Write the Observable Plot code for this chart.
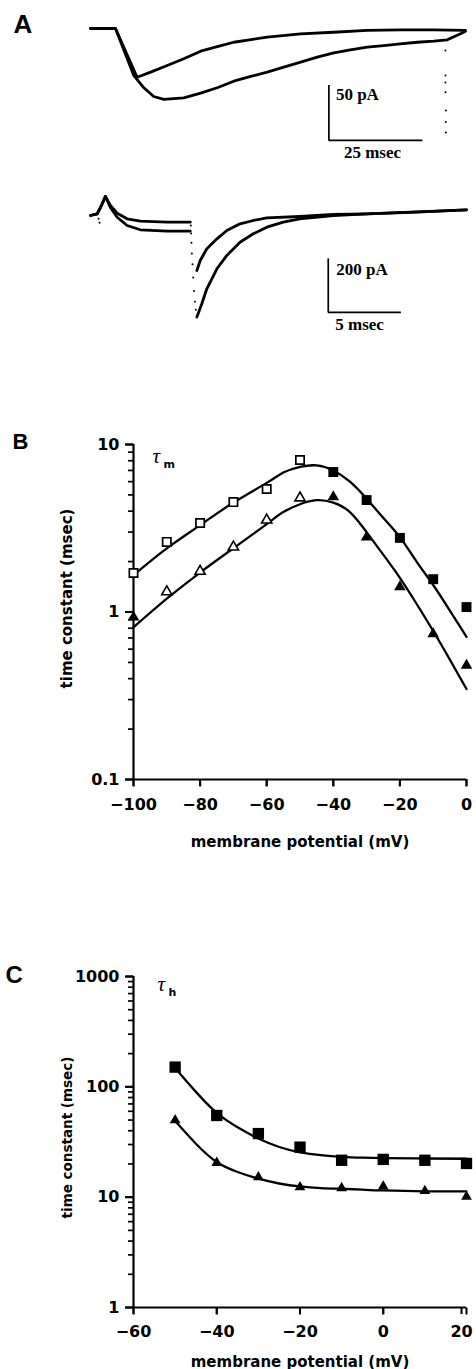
<!DOCTYPE html>
<html><head><meta charset="utf-8">
<script src="https://cdn.jsdelivr.net/npm/d3@7"></script>
<script src="https://cdn.jsdelivr.net/npm/@observablehq/plot@0.6"></script>
<style>
body{margin:0;background:#fff;}
#fig{position:relative;width:476px;height:1369px;overflow:hidden;background:#fff;}
#fig > svg{position:absolute;left:0;}
</style></head><body><div id="fig"></div>
<script>
// ---------- Panel A, upper records (time in ms, current in pA) ----------
const a1FastT = [0, 6.65, 12.4, 16.0, 20.4, 24.8, 29.3, 33.7, 38.1, 47.0, 55.9, 64.6, 73.6, 82.4, 91.2, 99.7];
const a1FastI = [0, 0, -44.3, -39.7, -33.6, -27.5, -20.6, -16.4, -12.5, -7.9, -4.8, -3.4, -1.8, -1.2, -1.2, -1.8];
const a1SlowT = [0, 6.65, 11.5, 14.2, 16.8, 19.5, 24.8, 29.3, 33.7, 38.1, 42.6, 47.0, 51.4, 55.9, 60.3, 64.7, 69.1, 73.6, 78.0, 82.4, 86.9, 91.3, 94.9, 98.4, 99.7];
const a1SlowI = [0, 0, -42.7, -53.9, -61.8, -64.5, -63.0, -58.8, -53.9, -47.9, -43.6, -39.7, -35.2, -30.6, -26.1, -22.1, -19.4, -17.0, -15.5, -13.9, -12.5, -11.5, -10.3, -4.8, -2.5];
const a1ArtT = [94.4, 94.4, 94.4, 94.4, 94.5, 94.5, 94.5];
const a1ArtI = [-20, -42.7, -49, -58, -74.5, -85, -94.5];
const a1Bar = {t0: 63.4, i0: -101.8, dT: 25, dI: 50};

// ---------- Panel A, lower records ----------
const a2UpT = [0, 0.46, 0.8, 1.02, 1.36, 1.82, 2.5, 3.41, 5.23, 6.82, 7.27, 7.5, 7.95, 8.64, 9.32, 10.22, 11.13, 12.05, 14.3, 16.6, 18.9, 22.3, 25.7];
const a2UpI = [-7.5, -1.1, 36, 64, 30, 1.1, -20, -28.8, -32.6, -32.6, -213.5, -176, -132, -94.8, -63.7, -38.6, -26.2, -16.1, -11.2, -3.7, -1.1, 4.9, 13.9];
const a2LoT = [0, 0.46, 0.8, 1.02, 1.36, 1.82, 2.5, 3.41, 5.23, 6.82, 7.27, 7.61, 7.95, 8.64, 9.32, 10.22, 11.13, 12.05, 13.18, 14.3, 16.6, 18.9, 25.7];
const a2LoI = [-7.5, -1.1, 36, 64, 22.5, -13.9, -45, -61, -66.3, -66.3, -388, -338, -282, -207, -157, -107.5, -76, -51.3, -32.6, -19.9, -7.5, -1.1, 13.9];
const a2ArtT = [6.86, 6.88, 6.9, 6.93, 6.97, 7.02, 7.08, 7.14, 7.2, 0.55, 0.62];
const a2ArtI = [-45, -75, -110, -150, -190, -240, -290, -330, -360, -20, -35];
const a2Bar = {t0: 16.25, i0: -370, dT: 5, dI: 200};

// ---------- Panel B: tau_m ----------
const bV = [-100, -90, -80, -70, -60, -50, -40, -30, -20, -10, 0];
const bTauSquare = [1.71, 2.62, 3.40, 4.53, 5.42, 8.08, 6.85, 4.66, 2.77, 1.57, 1.07];
const bSquareOpen = [true, true, true, true, true, true, false, false, false, false, false];
const bTauTriangle = [0.93, 1.32, 1.75, 2.44, 3.54, 4.8, 4.86, 2.8, 1.41, 0.74, 0.48];
const bTriangleOpen = [false, true, true, true, true, true, false, false, false, false, false];
const bFitV = [-100, -90, -80, -70, -60, -55, -50, -45, -40, -35, -30, -25, -20, -15, -10, -5, 0];
const bFitUpper = [1.66, 2.4, 3.3, 4.5, 5.9, 6.8, 7.35, 7.5, 7.0, 6.0, 4.75, 3.65, 2.8, 2.0, 1.45, 1.02, 0.71];
const bFitLower = [0.81, 1.2, 1.72, 2.4, 3.35, 3.95, 4.4, 4.65, 4.5, 3.95, 3.0, 2.2, 1.6, 1.12, 0.77, 0.52, 0.347];
const bXTicks = [-100, -80, -60, -40, -20, 0];
const bYTicks = [0.1, 1, 10];
const bYMinor = [0.2, 0.3, 0.4, 0.5, 0.6, 0.7, 0.8, 0.9, 2, 3, 4, 5, 6, 7, 8, 9];
const bXDomain = [-100, 0];
const bYDomain = [0.1, 10];

// ---------- Panel C: tau_h ----------
const cV = [-50, -40, -30, -20, -10, 0, 10, 20];
const cTauSquare = [151, 55, 37.7, 28.4, 21.6, 22, 21.6, 20.2];
const cTauTriangle = [49.8, 20.5, 15.2, 12.3, 12.1, 12.5, 11.4, 10.1];
const cFitV = [-50, -45, -40, -35, -30, -25, -20, -15, -10, -5, 0, 10, 20];
const cFitUpper = [148, 90, 58, 43, 34, 28.5, 25.5, 24, 23.2, 22.8, 22.6, 22.4, 22.3];
const cFitLower = [49, 30.5, 20.8, 16.9, 14.7, 13.3, 12.5, 12.1, 11.9, 11.7, 11.5, 11.3, 11.3];
const cXTicks = [-60, -40, -20, 0, 20];
const cYTicks = [1, 10, 100, 1000];
const cYMinor = [2,3,4,5,6,7,8,9,20,30,40,50,60,70,80,90,200,300,400,500,600,700,800,900];
const cXDomain = [-60, 20];
const cYDomain = [1, 1000];

// ---------- helpers ----------
const zip = (xs, ys, kx = "x", ky = "y") => xs.map((v, i) => ({[kx]: v, [ky]: ys[i]}));
const SANS = "DejaVu Sans";
const SERIF = "Liberation Serif";
const LETTER = "Liberation Sans";
const fig = document.getElementById("fig");
function place(svg, top) { svg.style.top = top + "px"; fig.appendChild(svg); }
const baseStyle = {background: "transparent", overflow: "visible", fontFamily: SANS};
const TRACE = 2.8;
// tick-shaped symbols (a short stroke leaving the point leftwards or downwards)
const tickLeft = len => ({draw(ctx) { ctx.moveTo(0, 0); ctx.lineTo(-len, 0); }});
const tickDown = len => ({draw(ctx) { ctx.moveTo(0, 0); ctx.lineTo(0, len); }});

// ---------- Panel A1 ----------
const A1 = Plot.plot({
  width: 476, height: 170, marginLeft: 90, marginRight: 10, marginTop: 0, marginBottom: 0,
  x: {domain: [0, 100], axis: null},
  y: {domain: [-129.1, 25.45], axis: null},
  style: baseStyle,
  marks: [
    Plot.line(zip(a1SlowT, a1SlowI), {x: "x", y: "y", stroke: "black", strokeWidth: TRACE}),
    Plot.line(zip(a1FastT, a1FastI), {x: "x", y: "y", stroke: "black", strokeWidth: TRACE}),
    Plot.dot(zip(a1ArtT, a1ArtI), {x: "x", y: "y", r: 1, fill: "black"}),
    Plot.ruleX([a1Bar], {x: "t0", y1: "i0", y2: d => d.i0 + d.dI, strokeWidth: 1.7}),
    Plot.ruleY([a1Bar], {y: "i0", x1: "t0", x2: d => d.t0 + d.dT, strokeWidth: 1.7}),
    Plot.text([a1Bar], {x: "t0", y: d => d.i0 + d.dI, text: d => d.dI + " pA", dx: 7, dy: 15, textAnchor: "start", lineAnchor: "bottom", fontFamily: SERIF, fontWeight: "bold", fontSize: 17, letterSpacing: "0.6px"}),
    Plot.text([a1Bar], {x: "t0", y: "i0", text: d => d.dT + " msec", dx: 15, dy: 18, textAnchor: "start", lineAnchor: "bottom", fontFamily: SERIF, fontWeight: "bold", fontSize: 17, letterSpacing: "0.6px"}),
    Plot.text(["A"], {frameAnchor: "top-left", dx: -77, dy: 32, textAnchor: "start", lineAnchor: "bottom", fontFamily: LETTER, fontWeight: "bold", fontSize: 26})
  ]
});
place(A1, 0);

// ---------- Panel A2 ----------
const A2 = Plot.plot({
  width: 476, height: 180, marginLeft: 90, marginRight: 10, marginTop: 0, marginBottom: 0,
  x: {domain: [0, 25.7], axis: null},
  y: {domain: [-513, 161], axis: null},
  style: baseStyle,
  marks: [
    Plot.line(zip(a2LoT.slice(0, 10), a2LoI.slice(0, 10)), {x: "x", y: "y", strokeWidth: TRACE}),
    Plot.line(zip(a2LoT.slice(10), a2LoI.slice(10)), {x: "x", y: "y", strokeWidth: TRACE}),
    Plot.line(zip(a2UpT.slice(0, 10), a2UpI.slice(0, 10)), {x: "x", y: "y", strokeWidth: TRACE}),
    Plot.line(zip(a2UpT.slice(10), a2UpI.slice(10)), {x: "x", y: "y", strokeWidth: TRACE}),
    Plot.dot(zip(a2ArtT, a2ArtI), {x: "x", y: "y", r: 1, fill: "black"}),
    Plot.ruleX([a2Bar], {x: "t0", y1: "i0", y2: d => d.i0 + d.dI, strokeWidth: 1.7}),
    Plot.ruleY([a2Bar], {y: "i0", x1: "t0", x2: d => d.t0 + d.dT, strokeWidth: 1.7}),
    Plot.text([a2Bar], {x: "t0", y: d => d.i0 + d.dI, text: d => d.dI + " pA", dx: 8, dy: 16, textAnchor: "start", lineAnchor: "bottom", fontFamily: SERIF, fontWeight: "bold", fontSize: 17, letterSpacing: "0.6px"}),
    Plot.text([a2Bar], {x: "t0", y: "i0", text: d => d.dT + " msec", dx: 7, dy: 18, textAnchor: "start", lineAnchor: "bottom", fontFamily: SERIF, fontWeight: "bold", fontSize: 17, letterSpacing: "0.6px"})
  ]
});
place(A2, 170);

// ---------- generic log panel ----------
function logPanel(o) {
  const rows = (vals, open) => o.V.map((v, i) => ({v, tau: vals[i], open: open ? open[i] : false}));
  const sq = rows(o.sq, o.sqOpen), tr = rows(o.tr, o.trOpen);
  const fitU = zip(o.fitV, o.fitU, "v", "tau");
  const fitL = zip(o.fitV, o.fitL, "v", "tau");
  const font = {fontSize: 16, fontWeight: "bold", fontFamily: SANS};
  const lastX = o.xTicks[o.xTicks.length - 1];
  const x0 = o.xDomain[0], y0 = o.yDomain[0];
  return Plot.plot({
    width: 476, height: o.height, marginLeft: 133, marginRight: 10, marginTop: o.mt, marginBottom: o.mb,
    x: {domain: o.xDomain},
    y: {type: "log", domain: o.yDomain},
    style: baseStyle,
    marks: [
      // tick labels
      Plot.axisY({ticks: o.yTicks, tickSize: 8, tickPadding: 6, tickFormat: d => String(d), label: null, strokeWidth: 2, ...font}),
      Plot.axisX({ticks: o.xTicks.slice(0, -1), tickSize: 7, tickPadding: o.xPad, label: null, strokeWidth: 2, ...font}),
      Plot.axisX({ticks: [lastX], tickSize: 7, tickPadding: o.xPad, label: null, strokeWidth: 2, textAnchor: "middle", dx: o.lastDx, ...font}),
      // tick strokes
      Plot.dot(o.yMinor, {x: () => x0, y: d => d, symbol: tickLeft(5.5), fill: "none", stroke: "black", strokeWidth: 1.7}),
      Plot.dot(o.yTicks, {x: () => x0, y: d => d, symbol: tickLeft(8), fill: "none", stroke: "black", strokeWidth: 2}),
      Plot.dot(o.xTicks, {x: d => d, y: () => y0, symbol: tickDown(7), fill: "none", stroke: "black", strokeWidth: 2}),
      // axis lines
      Plot.ruleX([x0], {y1: o.yDomain[0], y2: o.yDomain[1], strokeWidth: 2.2}),
      Plot.ruleY([y0], {x1: o.xDomain[0], x2: o.xDomain[1], strokeWidth: 2.2}),
      // fits and data
      Plot.line(fitU, {x: "v", y: "tau", curve: "natural", strokeWidth: 2.3}),
      Plot.line(fitL, {x: "v", y: "tau", curve: "natural", strokeWidth: 2.3}),
      Plot.dot(sq.filter(d => d.open), {x: "v", y: "tau", symbol: "square", r: o.rSq - 0.9, fill: "white", stroke: "black", strokeWidth: 1.7}),
      Plot.dot(sq.filter(d => !d.open), {x: "v", y: "tau", symbol: "square", r: o.rSq, fill: "black", stroke: "none"}),
      Plot.dot(tr.filter(d => d.open), {x: "v", y: "tau", symbol: "triangle", r: o.rTr - 0.5, fill: "white", stroke: "black", strokeWidth: 1.6}),
      Plot.dot(tr.filter(d => !d.open), {x: "v", y: "tau", symbol: "triangle", r: o.rTr, fill: "black", stroke: "none"}),
      // titles
      Plot.text(["membrane potential (mV)"], {frameAnchor: "bottom", dy: o.xTitleDy, textAnchor: "middle", lineAnchor: "bottom", fontFamily: SANS, fontWeight: "bold", fontSize: 15, letterSpacing: "0.45px"}),
      Plot.text(["time constant (msec)"], {frameAnchor: "left", dx: -66, dy: o.yTitleDy, rotate: -90, textAnchor: "middle", lineAnchor: "middle", fontFamily: SANS, fontWeight: "bold", fontSize: o.yTitleSize}),
      Plot.text(["τ"], {frameAnchor: "top-left", dx: o.tauDx, dy: o.tauDy, textAnchor: "start", lineAnchor: "bottom", fontFamily: SERIF, fontStyle: "italic", fontSize: 21}),
      Plot.text([o.sub], {frameAnchor: "top-left", dx: o.tauDx + 11, dy: o.tauDy + 5, textAnchor: "start", lineAnchor: "bottom", fontFamily: SANS, fontWeight: "bold", fontSize: 11}),
      Plot.text([o.letter], {frameAnchor: "top-left", dx: o.letterDx, dy: o.letterDy, textAnchor: "start", lineAnchor: "bottom", fontFamily: LETTER, fontWeight: "bold", fontSize: o.letterSize})
    ]
  });
}

const B = logPanel({
  height: 459, mt: 44, mb: 80, xPad: 12, lastDx: 0,
  V: bV, sq: bTauSquare, sqOpen: bSquareOpen, tr: bTauTriangle, trOpen: bTriangleOpen,
  fitV: bFitV, fitU: bFitUpper, fitL: bFitLower,
  xDomain: bXDomain, yDomain: bYDomain, xTicks: bXTicks, yTicks: bYTicks, yMinor: bYMinor,
  rSq: 5.6, rTr: 4.3, xTitleDy: 67, yTitleDy: -13.5, yTitleSize: 15,
  tauDx: 19, tauDy: 18, sub: "m", letter: "B", letterDx: -121, letterDy: 4, letterSize: 22
});
place(B, 400);

const C = logPanel({
  height: 419, mt: 26, mb: 62, xPad: 11, lastDx: -5,
  V: cV, sq: cTauSquare, tr: cTauTriangle,
  fitV: cFitV, fitU: cFitUpper, fitL: cFitLower,
  xDomain: cXDomain, yDomain: cYDomain, xTicks: cXTicks, yTicks: cYTicks, yMinor: cYMinor,
  rSq: 6.4, rTr: 4.0, xTitleDy: 59, yTitleDy: -4.5, yTitleSize: 13.5,
  tauDx: 24, tauDy: 14, sub: "h", letter: "C", letterDx: -128, letterDy: 6, letterSize: 24
});
place(C, 950);
</script>
</body></html>
